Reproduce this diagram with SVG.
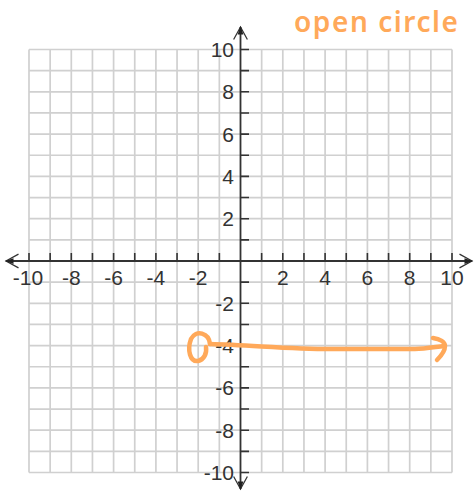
<svg xmlns="http://www.w3.org/2000/svg" width="475" height="492" viewBox="0 0 475 492">
<style>
.grid{fill:none;stroke:#d0d0d0;stroke-width:1.7}
.axis{fill:none;stroke:#333;stroke-width:1.8}
.tick{fill:none;stroke:#333;stroke-width:1.6}
.lbl{font-family:"Liberation Sans",Arial,sans-serif;font-size:21px;fill:#333}
.xl{text-anchor:middle}
.yl{text-anchor:end}
.ann{fill:none;stroke:#ffa95a;stroke-width:4.5;stroke-linecap:round;stroke-linejoin:round}
.note{font-family:"Noto Sans","Liberation Sans",sans-serif;font-size:28px;font-weight:600;fill:#ffa95a}
</style>
<defs>
<marker id="ah" markerUnits="userSpaceOnUse" markerWidth="20" markerHeight="20" refX="0" refY="0" viewBox="-14 -8 16 16" orient="auto-start-reverse" overflow="visible">
<path d="M-10,-5.5 L0,0 L-10,5.5" fill="none" stroke="#333" stroke-width="1"/>
<path d="M1,0 L-6,-2.3 L-6,2.3 Z" fill="#222"/>
</marker>
</defs>
<rect width="475" height="492" fill="#fff"/>
<g id="grid">
<path class="grid" d="M29,49.5V472.5M50.15,49.5V472.5M71.3,49.5V472.5M92.45,49.5V472.5M113.6,49.5V472.5M134.75,49.5V472.5M155.9,49.5V472.5M177.05,49.5V472.5M198.2,49.5V472.5M219.35,49.5V472.5M261.65,49.5V472.5M282.8,49.5V472.5M303.95,49.5V472.5M325.1,49.5V472.5M346.25,49.5V472.5M367.4,49.5V472.5M388.55,49.5V472.5M409.7,49.5V472.5M430.85,49.5V472.5M452,49.5V472.5M29,49.5H452M29,70.65H452M29,91.8H452M29,112.95H452M29,134.1H452M29,155.25H452M29,176.4H452M29,197.55H452M29,218.7H452M29,239.85H452M29,282.15H452M29,303.3H452M29,324.45H452M29,345.6H452M29,366.75H452M29,387.9H452M29,409.05H452M29,430.2H452M29,451.35H452M29,472.5H452"/>
</g>
<g id="connectors">
<line id="x-axis" class="axis" x1="6" y1="261" x2="472" y2="261" marker-start="url(#ah)" marker-end="url(#ah)"/>
<line id="y-axis" class="axis" x1="240.5" y1="27" x2="240.5" y2="489" marker-start="url(#ah)" marker-end="url(#ah)"/>
</g>
<g id="ticks">
<path class="tick" d="M29,253V261M50.15,253V261M71.3,253V261M92.45,253V261M113.6,253V261M134.75,253V261M155.9,253V261M177.05,253V261M198.2,253V261M219.35,253V261M261.65,253V261M282.8,253V261M303.95,253V261M325.1,253V261M346.25,253V261M367.4,253V261M388.55,253V261M409.7,253V261M430.85,253V261M452,253V261"/>
<path class="tick" d="M240.5,49.5H249M240.5,70.65H249M240.5,91.8H249M240.5,112.95H249M240.5,134.1H249M240.5,155.25H249M240.5,176.4H249M240.5,197.55H249M240.5,218.7H249M240.5,239.85H249M240.5,282.15H249M240.5,303.3H249M240.5,324.45H249M240.5,345.6H249M240.5,366.75H249M240.5,387.9H249M240.5,409.05H249M240.5,430.2H249M240.5,451.35H249M240.5,472.5H249"/>
</g>
<g id="x-labels">
<text class="lbl xl" x="28" y="285">-10</text>
<text class="lbl xl" x="71.3" y="285">-8</text>
<text class="lbl xl" x="113.6" y="285">-6</text>
<text class="lbl xl" x="155.9" y="285">-4</text>
<text class="lbl xl" x="198.2" y="285">-2</text>
<text class="lbl xl" x="282.8" y="285">2</text>
<text class="lbl xl" x="325.1" y="285">4</text>
<text class="lbl xl" x="367.4" y="285">6</text>
<text class="lbl xl" x="409.7" y="285">8</text>
<text class="lbl xl" x="452" y="285">10</text>
</g>
<g id="y-labels">
<text class="lbl yl" x="234" y="57">10</text>
<text class="lbl yl" x="234" y="99.3">8</text>
<text class="lbl yl" x="234" y="141.6">6</text>
<text class="lbl yl" x="234" y="183.9">4</text>
<text class="lbl yl" x="234" y="226.2">2</text>
<text class="lbl yl" x="234" y="310.8">-2</text>
<text class="lbl yl" x="234" y="353.1">-4</text>
<text class="lbl yl" x="234" y="395.4">-6</text>
<text class="lbl yl" x="234" y="437.7">-8</text>
<text class="lbl yl" x="234" y="480">-10</text>
</g>
<g id="annotation">
<path class="ann" d="M210,344 C209,333 196,329 191,339 C187,350 190,362 198,361 C204,360 207,353 206,347"/>
<path class="ann" d="M210,344 C250,345 290,349 330,349 C370,349 400,349 415,349 C425,349 435,347 444,346"/>
<path class="ann" d="M433,338 C440,339 445,342 445,346 C445,351 441,356 437,360"/>
<text class="note" x="294" y="32" textLength="164" lengthAdjust="spacing">open circle</text>
</g>
</svg>
